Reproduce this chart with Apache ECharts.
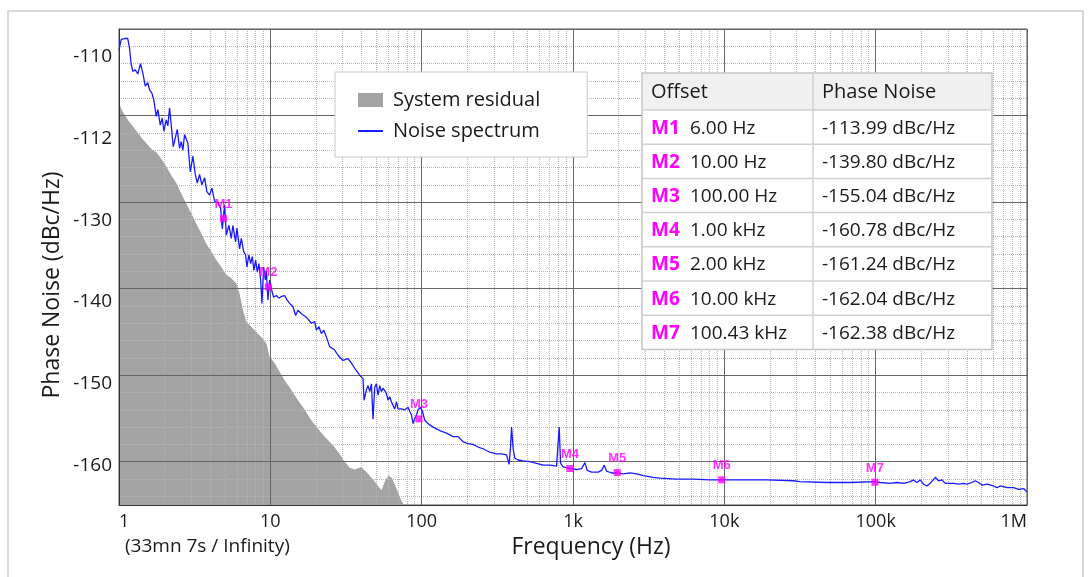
<!DOCTYPE html>
<html><head><meta charset="utf-8">
<script src="https://cdn.jsdelivr.net/npm/echarts@6/dist/echarts.min.js"></script>
<style>html,body{margin:0;padding:0;background:#fff}#c{width:1088px;height:577px}</style>
</head><body><div id="c"></div>
<script>
// ---------- data ----------
const xTickLabels = ['1', '10', '100', '1k', '10k', '100k', '1M'];
const yTickLabels = ['-160', '-150', '-140', '-130', '-112', '-110'];

const noiseFreq = [1.000,1.034,1.087,1.116,1.143,1.173,1.204,1.234,1.280,1.331,1.387,1.437,1.491,1.550,1.591,1.648,1.699,1.762,1.806,1.873,1.931,1.979,2.052,2.103,2.158,2.214,2.283,2.354,2.427,2.513,2.579,2.642,2.712,2.783,2.851,2.958,3.077,3.192,3.290,3.407,3.528,3.677,3.808,3.968,4.110,4.282,4.502,4.692,4.814,4.986,5.117,5.323,5.522,5.657,5.895,6.013,6.266,6.430,6.659,6.864,7.002,7.219,7.408,7.603,7.790,7.994,8.204,8.406,8.627,8.800,9.031,9.268,9.408,9.641,9.894,10.15,10.51,10.96,11.40,11.83,12.43,12.88,13.42,14.11,14.70,15.23,16.03,17.30,18.67,19.64,20.15,20.96,21.75,22.52,23.47,24.67,26.63,28.00,30.21,32.61,34.34,36.10,38.96,40.96,41.59,43.14,44.21,45.37,46.56,47.71,48.96,50.24,51.47,52.83,54.21,55.55,57.02,58.51,59.96,61.52,63.13,64.69,66.39,68.13,69.81,73.52,77.31,81.30,83.43,85.62,87.73,90.04,92.39,94.67,98.19,101.2,104.8,110.2,119.0,131.8,145.9,161.4,174.1,187.8,202.7,218.8,236.0,254.7,282.1,312.4,337.2,363.8,378.4,386.6,392.6,402.3,412.8,434.1,468.4,518.8,574.5,635.3,703.5,778.9,798.2,810.5,827.9,861.4,954.0,1056,1140,1199,1241,1327,1468,1546,1608,1668,1800,1960,2148,2378,2634,2913,3392,3755,4844,6237,8043,9612,13360,19070,28600,31680,47560,67800,98790,107100,124700,138100,152800,169200,177800,187300,196900,207100,218100,229300,247500,260200,274100,288200,303000,327100,352900,380800,401000,432700,455000,478600,504100,543800,601300,633300,666000,737600,815600,879800,949500,989500,1000000];
const noiseDb = [-112.4,-111.2,-111.1,-111.3,-111.1,-112.2,-114.1,-114.9,-114.7,-115.2,-114.0,-115.1,-116.6,-116.2,-117.0,-117.4,-118.2,-120.1,-119.3,-121.1,-120.3,-121.8,-120.5,-121.2,-119.1,-121.1,-123.6,-122.6,-121.6,-123.8,-123.0,-124.0,-122.2,-122.0,-123.2,-126.5,-124.7,-126.8,-127.8,-126.8,-128.0,-127.2,-128.8,-129.2,-128.4,-129.9,-130.1,-130.7,-133.1,-130.3,-133.8,-132.7,-134.2,-132.7,-134.6,-133.0,-135.4,-134.2,-135.7,-136.1,-137.5,-136.1,-137.1,-136.3,-137.9,-136.7,-138.1,-137.1,-139.0,-141.7,-137.5,-139.0,-137.9,-141.3,-139.0,-140.0,-141.0,-140.8,-141.1,-140.9,-140.8,-141.3,-141.7,-142.1,-143.1,-142.5,-142.9,-143.3,-144.0,-143.8,-144.8,-144.4,-145.2,-144.8,-145.6,-146.7,-147.1,-147.7,-148.3,-148.1,-148.6,-149.2,-150.0,-150.4,-152.9,-151.7,-151.2,-151.9,-151.0,-155.1,-151.4,-151.0,-152.3,-151.2,-151.9,-151.5,-151.4,-152.1,-152.9,-152.5,-153.1,-152.9,-153.9,-153.1,-153.9,-153.9,-154.0,-153.7,-154.2,-154.6,-155.6,-155.0,-154.6,-154.0,-153.7,-154.2,-155.2,-155.6,-156.0,-156.4,-156.7,-157.1,-157.1,-157.7,-157.9,-158.0,-158.3,-158.5,-158.9,-159.1,-159.1,-159.2,-160.3,-158.3,-156.0,-158.5,-159.6,-159.8,-159.9,-160.0,-160.2,-160.4,-160.4,-160.5,-160.6,-156.0,-160.2,-160.6,-160.8,-160.9,-160.8,-160.1,-161.0,-161.2,-161.2,-161.0,-160.4,-161.1,-161.3,-161.3,-161.4,-161.3,-161.4,-161.6,-161.8,-161.9,-162.0,-162.0,-162.1,-162.1,-162.1,-162.1,-162.2,-162.3,-162.4,-162.4,-162.3,-162.4,-162.5,-162.4,-162.5,-162.3,-162.1,-162.4,-162.1,-162.6,-162.8,-162.5,-161.8,-162.2,-162.1,-162.5,-162.5,-162.5,-162.6,-162.5,-162.6,-162.4,-162.2,-162.4,-162.7,-162.6,-162.8,-163.0,-162.8,-163.0,-163.0,-163.2,-163.1,-163.4,-163.5];

const residualFreq = [1.0,1.060,1.143,1.266,1.402,1.550,1.673,1.762,1.901,2.052,2.214,2.389,2.579,2.783,3.003,3.241,3.498,3.774,4.073,4.395,4.743,5.117,5.522,5.959,6.266,6.590,6.940,7.488,8.279,8.934,9.408,9.894,10.68,11.52,12.43,13.77,15.23,16.86,18.67,20.64,22.87,25.94,28.73,31.00,33.46,36.10,39.99,44.21,48.96,54.21,57.63,60.59,63.72,68.13,73.52,76.49];
const residualDb = [-118.6,-119.6,-120.5,-121.5,-122.5,-123.4,-124.0,-124.2,-125.0,-125.9,-126.9,-127.8,-129.0,-130.2,-131.3,-132.5,-133.6,-134.8,-135.7,-136.7,-137.5,-138.4,-138.8,-139.4,-140.6,-142.5,-143.8,-144.4,-145.2,-145.8,-146.3,-147.9,-148.6,-149.6,-150.6,-151.7,-152.9,-154.0,-155.2,-156.2,-157.1,-158.1,-159.1,-160.0,-160.7,-160.9,-160.6,-161.4,-162.3,-163.3,-162.1,-161.6,-161.9,-163.1,-164.5,-165.0];

const markerNames = ['M1', 'M2', 'M3', 'M4', 'M5', 'M6', 'M7'];
const markerFreq = [4.9, 9.7, 96, 955, 1960, 9610, 98800];
const markerDb = [-131.9, -139.8, -155.05, -160.79, -161.25, -162.1, -162.37];

const tableHeader = ['Offset', 'Phase Noise'];
const tableOffsets = ['6.00 Hz', '10.00 Hz', '100.00 Hz', '1.00 kHz', '2.00 kHz', '10.00 kHz', '100.43 kHz'];
const tableNoise = ['-113.99 dBc/Hz', '-139.80 dBc/Hz', '-155.04 dBc/Hz', '-160.78 dBc/Hz', '-161.24 dBc/Hz', '-162.04 dBc/Hz', '-162.38 dBc/Hz'];

// ---------- build ----------
const FONT = "'Open Sans', 'Noto Sans', sans-serif";
const TXT = '#1a1a1a';
const noise = noiseFreq.map((f, i) => [f, noiseDb[i]]);
const residual = residualFreq.map((f, i) => [f, residualDb[i]]);
const markers = markerNames.map((n, i) => ({ name: n, value: [markerFreq[i], markerDb[i]] }));

const minorFreqs = [];
for (let d = 1; d < 1e6; d *= 10) for (let k = 2; k <= 9; k++) minorFreqs.push(k * d);

// table graphic
const T = { x: 642, y: 73, w: 350, hh: 37, rh: 34.2, col: 171 };
const tbl = [];
const tH = T.hh + 7 * T.rh;
tbl.push({ type: 'rect', z: 10, shape: { x: T.x, y: T.y, width: T.w, height: tH }, style: { fill: '#fff', stroke: '#c4c4c4', lineWidth: 1.5 } });
tbl.push({ type: 'rect', z: 10, shape: { x: T.x + 1, y: T.y + 1, width: T.w - 2, height: T.hh - 1 }, style: { fill: '#f0f0f0' } });
for (let i = 0; i < 7; i++) {
  const yy = T.y + T.hh + i * T.rh;
  tbl.push({ type: 'line', z: 10, shape: { x1: T.x, y1: yy, x2: T.x + T.w, y2: yy }, style: { stroke: '#d0d0d0', lineWidth: 1.5 } });
}
tbl.push({ type: 'line', z: 10, shape: { x1: T.x + T.col, y1: T.y, x2: T.x + T.col, y2: T.y + tH }, style: { stroke: '#d0d0d0', lineWidth: 1.5 } });
tbl.push({ type: 'text', z: 11, x: T.x + 9, y: T.y + T.hh / 2 + 1, style: { text: tableHeader[0], fontSize: 20, fontFamily: FONT, fill: TXT, verticalAlign: 'middle' } });
tbl.push({ type: 'text', z: 11, x: T.x + T.col + 9, y: T.y + T.hh / 2 + 1, style: { text: tableHeader[1], fontSize: 20, fontFamily: FONT, fill: TXT, verticalAlign: 'middle' } });
markerNames.forEach((n, i) => {
  const cy = T.y + T.hh + (i + 0.5) * T.rh + 1;
  tbl.push({ type: 'text', z: 11, x: T.x + 9, y: cy, style: { text: n, fontSize: 19, fontWeight: 'bold', fontFamily: FONT, fill: '#f0f', verticalAlign: 'middle' } });
  tbl.push({ type: 'text', z: 11, x: T.x + 48, y: cy, style: { text: tableOffsets[i], fontSize: 19, fontFamily: FONT, fill: TXT, verticalAlign: 'middle' } });
  tbl.push({ type: 'text', z: 11, x: T.x + T.col + 9, y: cy, style: { text: tableNoise[i], fontSize: 19, fontFamily: FONT, fill: TXT, verticalAlign: 'middle' } });
});
tbl.push({ type: 'rect', z: 11, shape: { x: 8, y: 11, width: 1075, height: 600 }, style: { fill: 'none', stroke: '#dadada', lineWidth: 2 } });

const chart = echarts.init(document.getElementById('c'), null, { renderer: 'canvas' });
chart.setOption({
  animation: false,
  backgroundColor: '#fff',
  title: { text: '(33mn 7s / Infinity)', left: 125, top: 537, padding: 0, textStyle: { fontSize: 19, fontWeight: 'normal', color: TXT, fontFamily: FONT } },
  legend: {
    data: [{ name: 'System residual', icon: 'rect' }, { name: 'Noise spectrum', lineStyle: { width: 2 }, itemStyle: { opacity: 0 } }],
    orient: 'vertical', left: 335, top: 72, itemWidth: 25, itemHeight: 14, itemGap: 11,
    padding: [18, 47, 16, 22], backgroundColor: '#fff', borderColor: '#c8c8c8', borderWidth: 1,
    symbolKeepAspect: false, selectedMode: false, z: 10,
    textStyle: { fontSize: 20, lineHeight: 20, color: TXT, fontFamily: FONT, padding: [0, 0, 0, 5] }
  },
  grid: [
    { left: 119, top: 29, width: 908, height: 476, show: true, borderColor: '#555', borderWidth: 1, backgroundColor: '#fff' },
    { left: 119, top: 16, width: 1, height: 490 }
  ],
  xAxis: [
    { type: 'log', logBase: 10, min: 1, max: 1e6, gridIndex: 0, z: 3,
      axisLine: { show: true, lineStyle: { color: '#333', width: 1 } }, axisTick: { show: false },
      axisLabel: { formatter: v => xTickLabels[Math.round(Math.log10(v))], fontSize: 18, color: TXT, fontFamily: FONT, margin: 8, alignMinLabel: 'left', alignMaxLabel: 'right' },
      splitLine: { show: true, lineStyle: { color: '#666', width: 1 } },
      name: 'Frequency (Hz)', nameLocation: 'middle', nameGap: 30,
      nameTextStyle: { fontSize: 23, color: TXT, fontFamily: FONT, padding: [0, 0, 0, 36] } },
    { type: 'log', logBase: 10, min: 1, max: 1e6, gridIndex: 0, z: 2.5,
      axisLine: { show: false }, axisTick: { show: false, customValues: minorFreqs }, axisLabel: { show: false },
      splitLine: { show: true, lineStyle: { color: '#b5b5b5', type: 'dotted', width: 1 } } },
    { type: 'value', gridIndex: 1, show: false }
  ],
  yAxis: [
    { type: 'value', min: -165, max: -110, splitNumber: 5, gridIndex: 0, z: 3,
      axisLine: { show: true, lineStyle: { color: '#333', width: 1 } }, axisTick: { show: false }, axisLabel: { show: false },
      splitLine: { show: true, lineStyle: { color: '#666', width: 1 } },
      name: 'Phase Noise (dBc/Hz)', nameLocation: 'middle', nameGap: 55,
      nameTextStyle: { fontSize: 23, color: TXT, fontFamily: FONT, padding: [0, 36, 0, 0] } },
    { type: 'value', min: -165, max: -110, interval: 1, gridIndex: 0, z: 2.5, position: 'left',
      axisLine: { show: false }, axisTick: { show: false }, axisLabel: { show: false },
      splitLine: { show: true, lineStyle: { color: ['rgba(0,0,0,0)', '#b5b5b5'], type: 'dotted', width: 1 } } },
    { type: 'category', gridIndex: 1, data: yTickLabels, position: 'left',
      axisLine: { show: false }, axisTick: { show: false }, splitLine: { show: false },
      axisLabel: { interval: 0, fontSize: 19, margin: 7, color: TXT, fontFamily: FONT } }
  ],
  series: [
    { name: 'System residual', type: 'line', xAxisIndex: 0, yAxisIndex: 0, data: residual, symbol: 'none', silent: true,
      lineStyle: { width: 0 }, itemStyle: { color: '#a3a3a3' }, areaStyle: { color: '#a3a3a3', opacity: 1, origin: 'start' }, z: 2 },
    { name: 'Noise spectrum', type: 'line', xAxisIndex: 0, yAxisIndex: 0, data: noise, symbol: 'none',
      lineStyle: { width: 1.3, color: '#1a1aff' }, itemStyle: { color: '#1a1aff' }, z: 5 },
    { name: 'Markers', type: 'scatter', xAxisIndex: 0, yAxisIndex: 0, data: markers, symbol: 'rect', symbolSize: 7,
      itemStyle: { color: '#ff00ff' }, z: 6,
      label: { show: true, position: 'top', distance: 4, formatter: '{b}', color: '#ff00ff', fontWeight: 'bold', fontSize: 13, fontFamily: "'Liberation Sans', Arial, sans-serif" } }
  ],
  graphic: tbl
});
</script></body></html>
